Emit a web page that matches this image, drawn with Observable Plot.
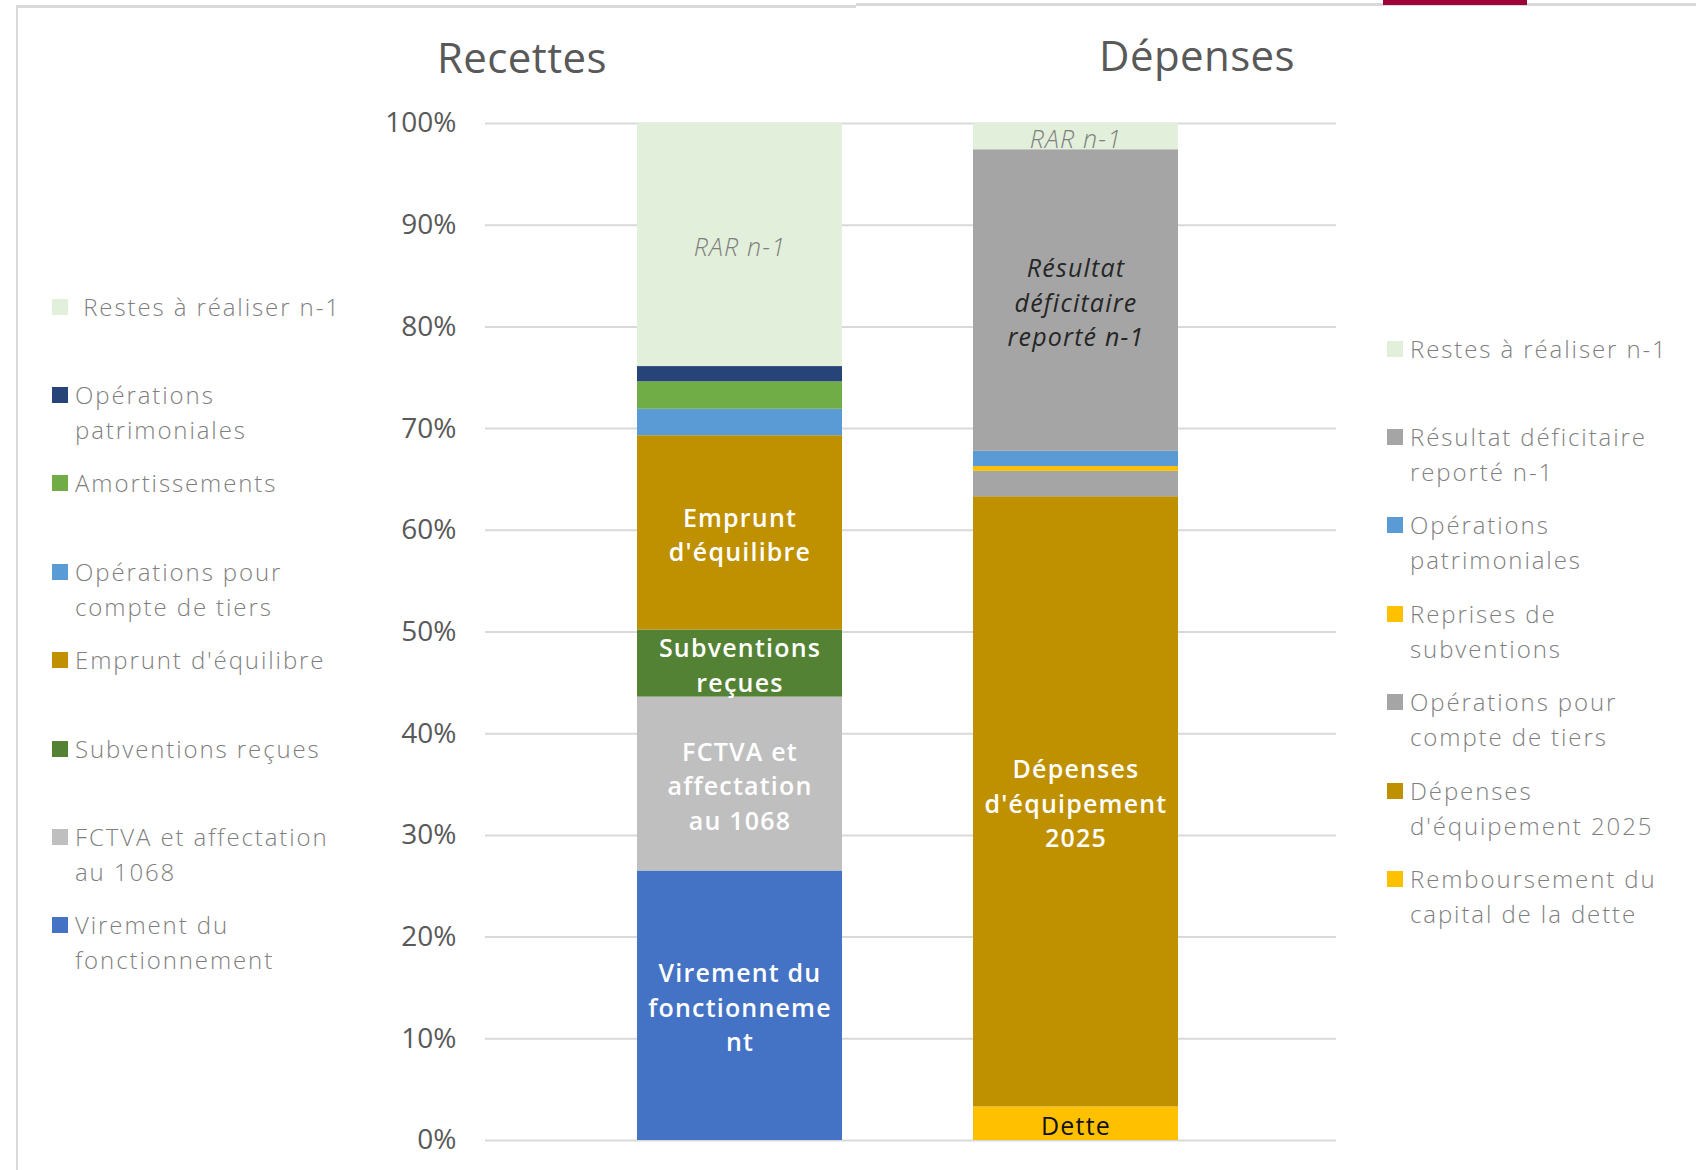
<!DOCTYPE html>
<html>
<head>
<meta charset="utf-8">
<script src="https://cdn.jsdelivr.net/npm/d3@7"></script>
<script src="https://cdn.jsdelivr.net/npm/@observablehq/plot@0.6"></script>
<style>
  html, body { margin: 0; padding: 0; background: #fff; }
  #root { position: relative; width: 1696px; height: 1170px; overflow: hidden; font-family: "Open Sans", sans-serif; }
  #root svg { position: absolute; left: 0; top: 0; }
  #root svg g[aria-label="text"] text { letter-spacing: 1.2px; }
  .title { position: absolute; font-size: 42px; line-height: 42px; color: #595959; transform: translateX(-50%); white-space: nowrap; letter-spacing: 0.4px; }
  .legend-item { position: absolute; display: flex; align-items: flex-start; }
  .swatch { width: 16px; height: 16px; margin-top: 10px; margin-right: 7px; flex: none; }
  .legend-text { font-size: 24px; line-height: 35px; color: #7f7f7f; font-weight: 300; letter-spacing: 1.9px; white-space: pre; }
  .frame { position: absolute; background: #d9d9d9; }
</style>
</head>
<body>
<div id="root"></div>
<script>
// ---- data ----
const sides = ["Recettes", "Dépenses"];
const yTicks = [0, 10, 20, 30, 40, 50, 60, 70, 80, 90, 100];

// Recettes, stacked bottom -> top (percent of total)
const recettesCategories = [
  "Virement du fonctionnement",
  "FCTVA et affectation au 1068",
  "Subventions reçues",
  "Emprunt d'équilibre",
  "Opérations pour compte de tiers",
  "Amortissements",
  "Opérations patrimoniales",
  "Restes à réaliser n-1"
];
const recettesValues = [26.5, 17.1, 6.6, 19.1, 2.6, 2.7, 1.5, 23.9];
const recettesColors = ["#4472C4", "#BFBFBF", "#548235", "#BF9000", "#5B9BD5", "#70AD47", "#264478", "#E2EFDA"];
const recettesLabels = ["Virement du\nfonctionneme\nnt", "FCTVA et\naffectation\nau 1068", "Subventions\nreçues", "Emprunt\nd'équilibre", "", "", "", "RAR n-1"];
const recettesLabelStyles = ["white", "white", "white", "white", "", "", "", "rar"];
const recettesLegend = [
  "Virement du\nfonctionnement",
  "FCTVA et affectation\nau 1068",
  "Subventions reçues",
  "Emprunt d'équilibre",
  "Opérations pour\ncompte de tiers",
  "Amortissements",
  "Opérations\npatrimoniales",
  " Restes à réaliser n-1"
];

// Dépenses, stacked bottom -> top
const depensesCategories = [
  "Remboursement du capital de la dette",
  "Dépenses d'équipement 2025",
  "Opérations pour compte de tiers",
  "Reprises de subventions",
  "Opérations patrimoniales",
  "Résultat déficitaire reporté n-1",
  "Restes à réaliser n-1"
];
const depensesValues = [3.3, 60.0, 2.5, 0.47, 1.5, 29.65, 2.58];
const depensesColors = ["#FFC000", "#BF9000", "#A5A5A5", "#FFC000", "#5B9BD5", "#A5A5A5", "#E2EFDA"];
const depensesLabels = ["Dette", "Dépenses\nd'équipement\n2025", "", "", "", "Résultat\ndéficitaire\nreporté n-1", "RAR n-1"];
const depensesLabelStyles = ["dark", "white", "", "", "", "italic", "rar"];
const depensesLegend = [
  "Remboursement du\ncapital de la dette",
  "Dépenses\nd'équipement 2025",
  "Opérations pour\ncompte de tiers",
  "Reprises de\nsubventions",
  "Opérations\npatrimoniales",
  "Résultat déficitaire\nreporté n-1",
  "Restes à réaliser n-1"
];

// ---- table built from the arrays ----
const rows = [
  ...recettesCategories.map((c, i) => ({side: "Recettes", cat: c, value: recettesValues[i], color: recettesColors[i], label: recettesLabels[i], style: recettesLabelStyles[i]})),
  ...depensesCategories.map((c, i) => ({side: "Dépenses", cat: c, value: depensesValues[i], color: depensesColors[i], label: depensesLabels[i], style: depensesLabelStyles[i]}))
];

const labelMark = (styleName, opts) => Plot.text(rows, Plot.stackY({
  x: "side", y: "value",
  text: d => d.style === styleName ? d.label : null,
  fontSize: 25, lineHeight: 1.38,
  ...opts
}));

const chart = Plot.plot({
  width: 1696, height: 1170,
  marginTop: 123, marginBottom: 30, marginLeft: 485, marginRight: 360,
  style: {fontFamily: "'Open Sans', sans-serif", background: "transparent"},
  x: {domain: sides, range: [636, 1178], paddingInner: 0.39, paddingOuter: 0, axis: null},
  y: {domain: [0, 100], axis: null},
  color: {type: "identity"},
  marks: [
    Plot.gridY(yTicks, {stroke: "#d9d9d9", strokeOpacity: 1, strokeWidth: 2}),
    Plot.axisY(yTicks, {tickSize: 0, tickPadding: 29, fontSize: 28, fill: "#595959", tickFormat: d => d + "%", label: null}),
    Plot.barY(rows, {x: "side", y: "value", fill: "color"}),
    labelMark("white", {fill: "white", fontWeight: 600}),
    labelMark("rar", {fill: "#7f7f7f", fontStyle: "italic", fontWeight: 300}),
    labelMark("italic", {fill: "#262626", fontStyle: "italic", fontWeight: 500}),
    labelMark("dark", {fill: "#111111", fontWeight: 400})
  ]
});

const root = document.getElementById("root");

// frame lines and logo fragment
const addDiv = (cls, css) => { const d = document.createElement("div"); d.className = cls; Object.assign(d.style, css); root.appendChild(d); return d; };
addDiv("frame", {left: "16px", top: "5px", width: "2px", height: "1165px"});
addDiv("frame", {left: "16px", top: "5px", width: "840px", height: "3px"});
addDiv("frame", {left: "856px", top: "3px", width: "840px", height: "3px"});
addDiv("", {position: "absolute", left: "1383px", top: "0px", width: "144px", height: "5px", background: "#9E0038"});

root.appendChild(chart);

// titles
const t1 = addDiv("title", {left: "522px", top: "36px"}); t1.textContent = sides[0];
const t2 = addDiv("title", {left: "1197px", top: "34px"}); t2.textContent = sides[1];

// legends (top to bottom = reverse of stacking order)
function legend(labels, colors, x, firstCenter) {
  const step = 88.4;
  const lab = labels.slice().reverse();
  const col = colors.slice().reverse();
  lab.forEach((l, i) => {
    const item = addDiv("legend-item", {left: x + "px", top: (firstCenter + i * step - 17.5) + "px"});
    const sw = document.createElement("div"); sw.className = "swatch"; sw.style.background = col[i];
    const tx = document.createElement("div"); tx.className = "legend-text"; tx.textContent = l;
    item.appendChild(sw); item.appendChild(tx);
  });
}
legend(recettesLegend, recettesColors, 52, 306);
legend(depensesLegend, depensesColors, 1387, 348);
</script>
</body>
</html>
